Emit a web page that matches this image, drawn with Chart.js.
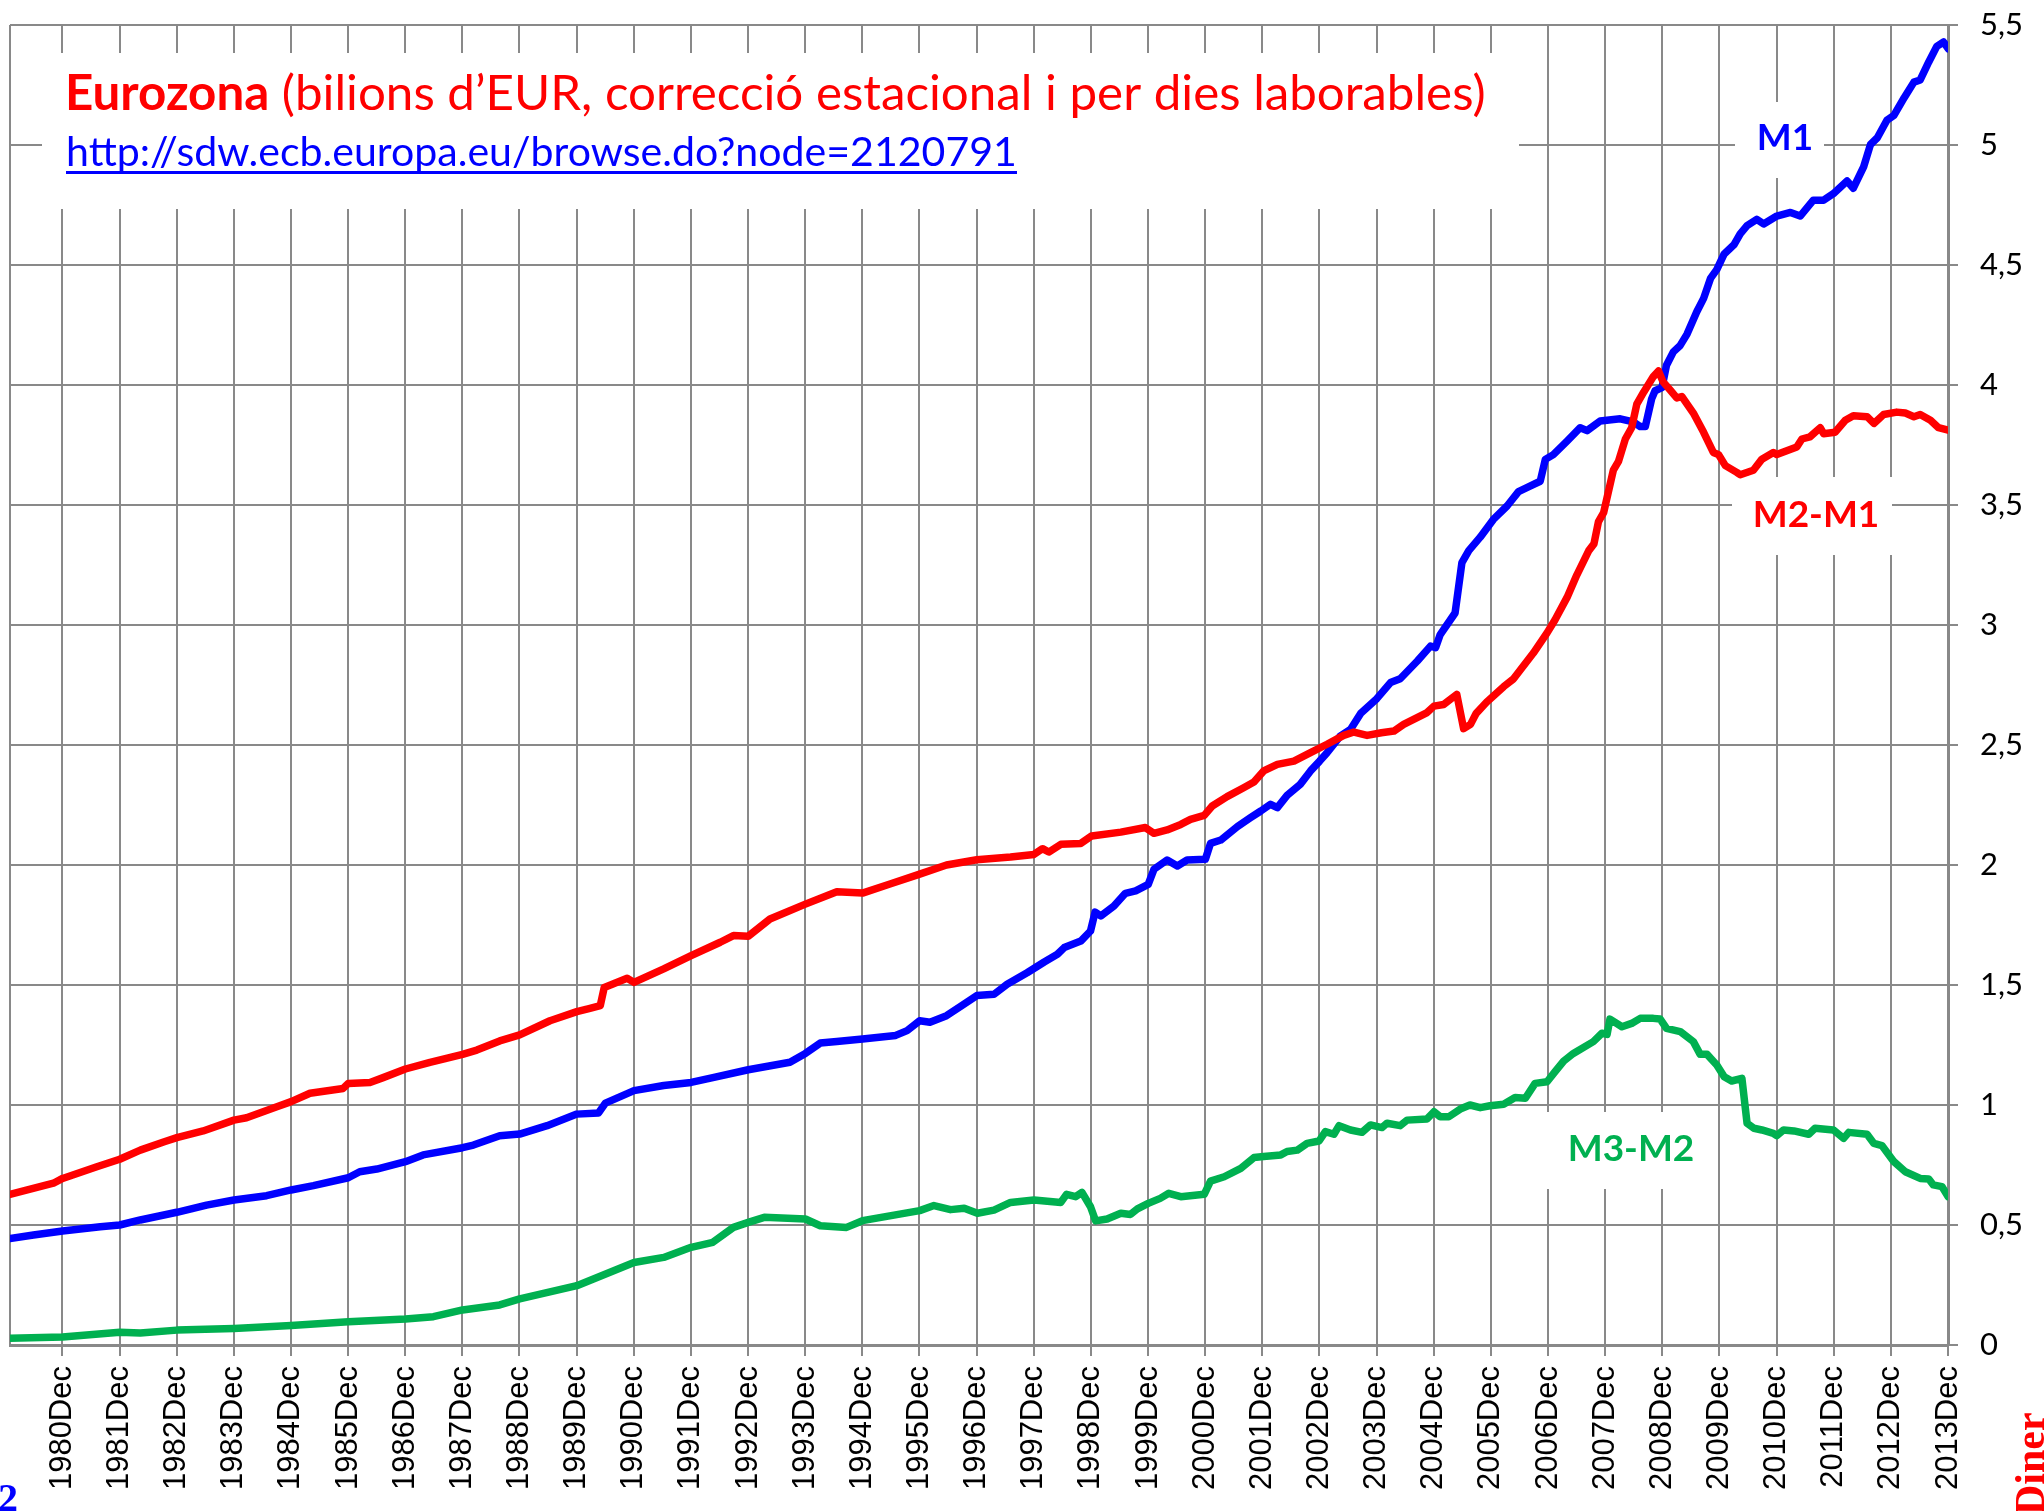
<!DOCTYPE html>
<html>
<head>
<meta charset="utf-8">
<title>Eurozona M1, M2-M1, M3-M2</title>
<script src="https://cdn.jsdelivr.net/npm/chart.js@4.4.0/dist/chart.umd.min.js"></script>
<style>
  html, body { margin: 0; padding: 0; background: #fff; }
  #wrap { width: 2044px; height: 1511px; }
</style>
</head>
<body>
<div id="wrap"><canvas id="moneyChart" width="2044" height="1511"></canvas></div>
<script>
// x axis ticks (one per December), y axis ticks
const tickLabels = ['1980Dec', '1981Dec', '1982Dec', '1983Dec', '1984Dec', '1985Dec', '1986Dec', '1987Dec',
    '1988Dec', '1989Dec', '1990Dec', '1991Dec', '1992Dec', '1993Dec', '1994Dec', '1995Dec', '1996Dec',
    '1997Dec', '1998Dec', '1999Dec', '2000Dec', '2001Dec', '2002Dec', '2003Dec', '2004Dec', '2005Dec',
    '2006Dec', '2007Dec', '2008Dec', '2009Dec', '2010Dec', '2011Dec', '2012Dec', '2013Dec'];
const yTicks = [0, 0.5, 1, 1.5, 2, 2.5, 3, 3.5, 4, 4.5, 5, 5.5];
const yTickLabels = ['0', '0,5', '1', '1,5', '2', '2,5', '3', '3,5', '4', '4,5', '5', '5,5'];

// M1 (bilions d'EUR)
const m1Years = [1980.0, 1980.41, 1980.92, 1981.58, 1981.92, 1982.28, 1982.92, 1983.44, 1983.92, 1984.49,
    1984.92, 1985.31, 1985.92, 1986.12, 1986.42, 1986.92, 1987.23, 1987.92, 1988.11, 1988.57,
    1988.92, 1989.4, 1989.92, 1990.3, 1990.42, 1990.92, 1991.44, 1991.92, 1992.3, 1992.92,
    1993.65, 1993.92, 1994.18, 1994.47, 1994.92, 1995.5, 1995.7, 1995.92, 1996.1, 1996.39,
    1996.63, 1996.92, 1997.22, 1997.45, 1997.8, 1998.1, 1998.33, 1998.45, 1998.74, 1998.91,
    1998.99, 1999.09, 1999.32, 1999.52, 1999.7, 1999.92, 2000.02, 2000.25, 2000.43, 2000.6,
    2000.92, 2001.01, 2001.19, 2001.48, 2001.71, 2001.89, 2002.06, 2002.18, 2002.35, 2002.58,
    2002.76, 2002.92, 2003.05, 2003.28, 2003.46, 2003.64, 2003.92, 2004.16, 2004.33, 2004.63,
    2004.86, 2004.95, 2005.03, 2005.29, 2005.41, 2005.53, 2005.73, 2005.96, 2006.2, 2006.4,
    2006.61, 2006.78, 2006.87, 2007.01, 2007.25, 2007.48, 2007.6, 2007.83, 2008.18, 2008.41,
    2008.53, 2008.62, 2008.73, 2008.79, 2008.91, 2008.99, 2009.11, 2009.23, 2009.35, 2009.52,
    2009.64, 2009.76, 2009.87, 2010.0, 2010.17, 2010.28, 2010.4, 2010.57, 2010.69, 2010.92,
    2011.16, 2011.33, 2011.56, 2011.74, 2011.91, 2012.15, 2012.26, 2012.44, 2012.56, 2012.68,
    2012.85, 2012.97, 2013.15, 2013.32, 2013.43, 2013.58, 2013.72, 2013.84, 2013.92];
const m1Values = [0.444, 0.458, 0.475, 0.493, 0.5, 0.521, 0.553, 0.583, 0.604, 0.622,
    0.646, 0.664, 0.697, 0.722, 0.733, 0.764, 0.792, 0.822, 0.833, 0.872,
    0.879, 0.914, 0.962, 0.967, 1.008, 1.06, 1.081, 1.094, 1.114, 1.147,
    1.178, 1.215, 1.258, 1.265, 1.275, 1.29, 1.31, 1.351, 1.345, 1.372,
    1.41, 1.456, 1.461, 1.503, 1.551, 1.596, 1.628, 1.656, 1.683, 1.725,
    1.804, 1.788, 1.829, 1.882, 1.892, 1.919, 1.982, 2.021, 1.996, 2.021,
    2.024, 2.09, 2.104, 2.16, 2.197, 2.225, 2.253, 2.239, 2.29, 2.336,
    2.392, 2.433, 2.468, 2.537, 2.565, 2.632, 2.693, 2.76, 2.776, 2.85,
    2.912, 2.906, 2.96, 3.05, 3.26, 3.31, 3.366, 3.44, 3.496, 3.556,
    3.58, 3.599, 3.69, 3.71, 3.766, 3.822, 3.81, 3.85, 3.859, 3.846,
    3.827, 3.827, 3.942, 3.976, 3.989, 4.082, 4.138, 4.165, 4.212, 4.305,
    4.361, 4.444, 4.481, 4.546, 4.584, 4.63, 4.664, 4.69, 4.671, 4.704,
    4.719, 4.704, 4.77, 4.77, 4.797, 4.85, 4.82, 4.909, 5.002, 5.03,
    5.104, 5.123, 5.197, 5.262, 5.271, 5.346, 5.411, 5.429, 5.401];

// M2-M1
const m2m1Years = [1980.0, 1980.76, 1980.92, 1981.52, 1981.92, 1982.28, 1982.7, 1982.92, 1983.38, 1983.92,
    1984.14, 1984.67, 1984.92, 1985.25, 1985.83, 1985.92, 1986.3, 1986.53, 1986.92, 1987.35,
    1987.92, 1988.17, 1988.57, 1988.92, 1989.45, 1989.92, 1990.15, 1990.33, 1990.4, 1990.8,
    1990.92, 1991.44, 1991.92, 1992.43, 1992.66, 1992.92, 1993.3, 1993.92, 1994.47, 1994.92,
    1995.4, 1995.92, 1996.39, 1996.92, 1997.51, 1997.92, 1998.07, 1998.18, 1998.39, 1998.74,
    1998.93, 1999.44, 1999.87, 2000.02, 2000.25, 2000.49, 2000.66, 2000.9, 2001.04, 2001.3,
    2001.59, 2001.77, 2001.94, 2002.18, 2002.47, 2002.76, 2003.05, 2003.34, 2003.52, 2003.75,
    2004.0, 2004.22, 2004.39, 2004.8, 2004.92, 2005.09, 2005.32, 2005.44, 2005.56, 2005.66,
    2005.84, 2006.14, 2006.31, 2006.66, 2006.9, 2007.04, 2007.25, 2007.42, 2007.63, 2007.72,
    2007.8, 2007.89, 2008.06, 2008.15, 2008.27, 2008.38, 2008.47, 2008.59, 2008.76, 2008.85,
    2008.93, 2009.05, 2009.17, 2009.26, 2009.46, 2009.64, 2009.81, 2009.9, 2010.02, 2010.22,
    2010.28, 2010.51, 2010.66, 2010.86, 2010.92, 2011.27, 2011.36, 2011.5, 2011.68, 2011.74,
    2011.94, 2012.12, 2012.26, 2012.5, 2012.62, 2012.79, 2013.02, 2013.17, 2013.32, 2013.43,
    2013.61, 2013.75, 2013.92];
const m2m1Values = [0.628, 0.674, 0.694, 0.743, 0.774, 0.812, 0.847, 0.864, 0.892, 0.937,
    0.947, 0.993, 1.014, 1.049, 1.069, 1.09, 1.094, 1.114, 1.15, 1.178,
    1.211, 1.229, 1.267, 1.292, 1.351, 1.389, 1.403, 1.414, 1.49, 1.528,
    1.511, 1.567, 1.622, 1.678, 1.706, 1.703, 1.775, 1.837, 1.889, 1.883,
    1.921, 1.962, 2.0, 2.022, 2.033, 2.044, 2.068, 2.054, 2.086, 2.09,
    2.121, 2.137, 2.156, 2.132, 2.146, 2.169, 2.19, 2.207, 2.246, 2.285,
    2.322, 2.346, 2.392, 2.419, 2.433, 2.468, 2.503, 2.54, 2.554, 2.54,
    2.551, 2.558, 2.586, 2.635, 2.662, 2.669, 2.711, 2.568, 2.586, 2.632,
    2.678, 2.743, 2.775, 2.883, 2.967, 3.022, 3.115, 3.208, 3.31, 3.338,
    3.431, 3.468, 3.645, 3.682, 3.775, 3.822, 3.92, 3.97, 4.035, 4.058,
    4.013, 3.98, 3.946, 3.952, 3.883, 3.803, 3.719, 3.71, 3.664, 3.636,
    3.626, 3.645, 3.691, 3.719, 3.71, 3.742, 3.775, 3.784, 3.822, 3.797,
    3.803, 3.853, 3.872, 3.868, 3.84, 3.877, 3.887, 3.883, 3.868, 3.877,
    3.853, 3.822, 3.812];

// M3-M2
const m3m2Years = [1980.0, 1980.92, 1981.92, 1982.28, 1982.92, 1983.92, 1984.92, 1985.92, 1986.92, 1987.41,
    1987.92, 1988.57, 1988.92, 1989.92, 1990.92, 1991.44, 1991.92, 1992.3, 1992.66, 1992.92,
    1993.2, 1993.92, 1994.18, 1994.64, 1994.92, 1995.92, 1996.17, 1996.46, 1996.7, 1996.93,
    1997.22, 1997.51, 1997.92, 1998.39, 1998.49, 1998.65, 1998.76, 1998.91, 1999.0, 1999.2,
    1999.44, 1999.61, 1999.73, 1999.92, 2000.13, 2000.28, 2000.49, 2000.9, 2001.01, 2001.25,
    2001.54, 2001.77, 2001.94, 2002.24, 2002.35, 2002.53, 2002.7, 2002.91, 2003.02, 2003.17,
    2003.26, 2003.46, 2003.66, 2003.81, 2004.01, 2004.1, 2004.33, 2004.45, 2004.8, 2004.92,
    2005.03, 2005.18, 2005.38, 2005.55, 2005.73, 2005.9, 2006.14, 2006.34, 2006.52, 2006.69,
    2006.9, 2007.04, 2007.19, 2007.36, 2007.71, 2007.86, 2007.95, 2008.0, 2008.21, 2008.38,
    2008.53, 2008.76, 2008.88, 2008.99, 2009.23, 2009.46, 2009.58, 2009.7, 2009.87, 2010.0,
    2010.13, 2010.31, 2010.4, 2010.52, 2010.66, 2010.86, 2010.92, 2011.04, 2011.22, 2011.48,
    2011.59, 2011.91, 2012.09, 2012.18, 2012.5, 2012.62, 2012.76, 2012.97, 2013.17, 2013.43,
    2013.58, 2013.66, 2013.81, 2013.92];
const m3m2Values = [0.028, 0.033, 0.053, 0.05, 0.062, 0.069, 0.081, 0.097, 0.108, 0.118,
    0.146, 0.167, 0.192, 0.247, 0.344, 0.365, 0.407, 0.428, 0.49, 0.511,
    0.532, 0.525, 0.497, 0.49, 0.518, 0.56, 0.581, 0.564, 0.57, 0.549,
    0.562, 0.594, 0.604, 0.594, 0.628, 0.618, 0.636, 0.576, 0.517, 0.525,
    0.549, 0.544, 0.567, 0.59, 0.611, 0.632, 0.618, 0.628, 0.683, 0.701,
    0.736, 0.781, 0.785, 0.792, 0.806, 0.812, 0.84, 0.85, 0.889, 0.878,
    0.914, 0.896, 0.886, 0.917, 0.906, 0.924, 0.914, 0.937, 0.942, 0.972,
    0.951, 0.951, 0.983, 1.0, 0.989, 0.997, 1.003, 1.031, 1.028, 1.09,
    1.097, 1.139, 1.183, 1.215, 1.264, 1.299, 1.294, 1.358, 1.326, 1.34,
    1.361, 1.361, 1.358, 1.319, 1.306, 1.264, 1.211, 1.211, 1.167, 1.118,
    1.1, 1.111, 0.924, 0.903, 0.896, 0.882, 0.872, 0.896, 0.892, 0.878,
    0.903, 0.896, 0.861, 0.886, 0.878, 0.84, 0.831, 0.764, 0.722, 0.694,
    0.692, 0.667, 0.66, 0.618];

const gridColor = '#898989';
const blue = '#0000ff', red = '#ff0000', green = '#00b050';

function toPoints(xs, ys) {
    return xs.map((x, i) => ({ x: x, y: ys[i] }));
}

function fitSize(ctx, parts, family, target) {
    let w = 0;
    parts.forEach(p => {
        ctx.font = `${p.weight} 100px ${family}`;
        w += ctx.measureText(p.text).width;
    });
    return 100 * target / w;
}

// white boxes behind the texts (they hide the grid), then the texts themselves
const textPlugin = {
    id: 'texts',
    beforeDatasetsDraw(chart) {
        const ctx = chart.ctx;
        ctx.save();
        ctx.fillStyle = '#ffffff';
        ctx.fillRect(42, 53, 1519 - 42, 209 - 53);   // title
        ctx.fillRect(1735, 102, 1824 - 1735, 178 - 102); // M1
        ctx.fillRect(1732, 477, 1892 - 1732, 555 - 477); // M2-M1
        ctx.fillRect(1545, 1112, 1706 - 1545, 1189 - 1112); // M3-M2
        ctx.restore();
    },
    afterDraw(chart) {
        const ctx = chart.ctx;
        ctx.save();
        ctx.textBaseline = 'alphabetic';

        // title
        const tParts = [{ text: 'Eurozona', weight: 'bold' },
                        { text: ' (bilions d\u2019EUR, correcci\u00f3 estacional i per dies laborables)', weight: 'normal' }];
        const tSize = fitSize(ctx, tParts, 'Lato', 1421);
        let x = 65;
        ctx.fillStyle = red;
        ctx.textAlign = 'left';
        tParts.forEach(p => {
            ctx.font = `${p.weight} ${tSize}px Lato`;
            ctx.fillText(p.text, x, 110);
            x += ctx.measureText(p.text).width;
        });

        // link
        const link = 'http://sdw.ecb.europa.eu/browse.do?node=2120791';
        const lSize = fitSize(ctx, [{ text: link, weight: 'normal' }], 'Lato', 951);
        ctx.font = `normal ${lSize}px Lato`;
        ctx.fillStyle = blue;
        ctx.fillText(link, 66, 166);
        ctx.fillRect(66, 171, 951, 3);

        // series labels
        ctx.font = 'bold 37px Lato';
        ctx.textAlign = 'center';
        ctx.fillStyle = blue;
        ctx.fillText('M1', 1785, 150);
        ctx.fillStyle = red;
        ctx.fillText('M2-M1', 1816, 527);
        ctx.fillStyle = green;
        ctx.fillText('M3-M2', 1631, 1161);

        // page fragments at the edges
        ctx.textAlign = 'left';
        ctx.font = 'bold 40px "Liberation Serif"';
        ctx.fillStyle = blue;
        ctx.fillText('2', -2, 1511);
        ctx.translate(2044, 1515);
        ctx.rotate(-Math.PI / 2);
        ctx.font = 'bold 42px "Liberation Serif"';
        ctx.fillStyle = red;
        ctx.fillText('Diner', 0, 0);
        ctx.restore();
    }
};

const lineStyle = {
    pointRadius: 0,
    borderWidth: 7.5,
    tension: 0,
    fill: false,
    borderJoinStyle: 'round',
    borderCapStyle: 'round'
};

const chart = new Chart(document.getElementById('moneyChart').getContext('2d'), {
    type: 'line',
    data: {
        datasets: [
            Object.assign({ label: 'M2-M1', data: toPoints(m2m1Years, m2m1Values), borderColor: red }, lineStyle),
            Object.assign({ label: 'M1', data: toPoints(m1Years, m1Values), borderColor: blue }, lineStyle),
            Object.assign({ label: 'M3-M2', data: toPoints(m3m2Years, m3m2Values), borderColor: green }, lineStyle)
        ]
    },
    options: {
        responsive: false,
        animation: false,
        devicePixelRatio: 1,
        layout: { padding: { left: 10, top: 25, right: 0, bottom: 0 } },
        plugins: {
            legend: { display: false },
            title: { display: false },
            tooltip: { enabled: false }
        },
        scales: {
            x: {
                type: 'linear',
                min: 1980,
                max: 2013 + 11 / 12,
                afterBuildTicks: s => {
                    s.ticks = [{ value: 1980 }].concat(tickLabels.map((l, i) => ({ value: 1980 + 11 / 12 + i })));
                },
                afterFit: s => {
                    s.height = 166;
                    s.paddingLeft = 0;
                    s.paddingRight = 0;
                },
                grid: {
                    color: gridColor,
                    lineWidth: 2,
                    tickLength: 11,
                    tickWidth: 2,
                    tickColor: c => (c.tick && c.tick.value === 1980) ? 'rgba(0,0,0,0)' : gridColor
                },
                border: { color: gridColor, width: 3 },
                ticks: {
                    autoSkip: false,
                    minRotation: 90,
                    maxRotation: 90,
                    padding: 10,
                    color: '#000',
                    font: { family: '"Liberation Sans"', size: 31 },
                    callback: (v, i) => i === 0 ? '' : tickLabels[i - 1]
                }
            },
            y: {
                position: 'right',
                min: 0,
                max: 5.5,
                afterBuildTicks: s => { s.ticks = yTicks.map(v => ({ value: v })); },
                afterFit: s => {
                    s.width = 96;
                    s.paddingTop = 0;
                    s.paddingBottom = 0;
                },
                grid: { color: gridColor, lineWidth: 2, tickLength: 10, tickWidth: 2 },
                border: { color: gridColor, width: 3 },
                ticks: {
                    padding: 22,
                    color: '#000',
                    font: { family: 'Lato', size: 31 },
                    callback: (v, i) => yTickLabels[i]
                }
            }
        }
    },
    plugins: [textPlugin]
});
</script>
</body>
</html>
